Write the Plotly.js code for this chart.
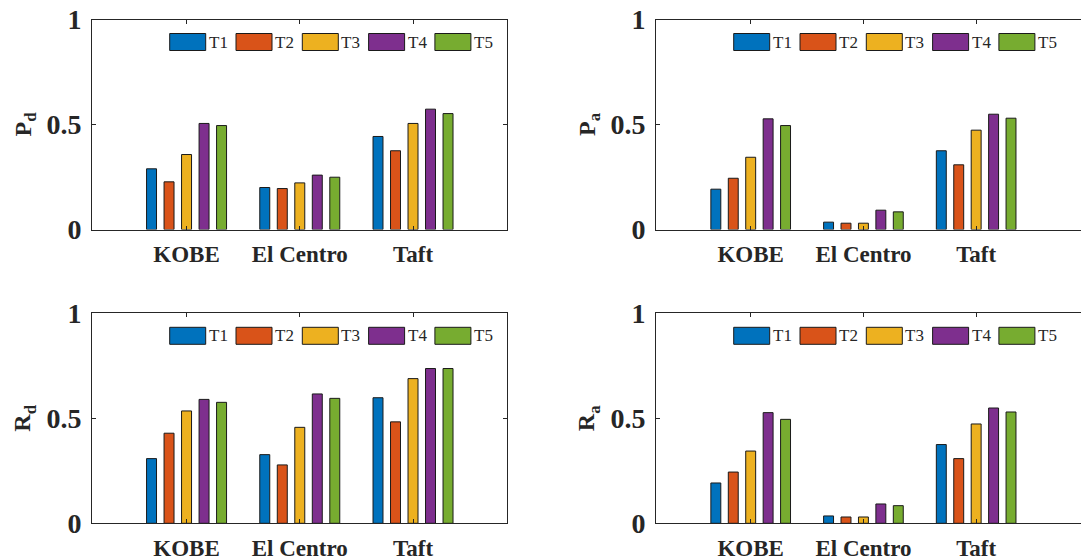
<!DOCTYPE html>
<html>
<head>
<meta charset="utf-8">
<script src="https://cdn.plot.ly/plotly-3.0.1.min.js"></script>
<style>html,body{margin:0;padding:0;background:#fff;}#chart{width:1081px;height:558px;}</style>
</head>
<body>
<div id="chart"></div>
<script>
// ---- data ----
const categories = ['KOBE', 'El Centro', 'Taft'];
const seriesNames = ['T1', 'T2', 'T3', 'T4', 'T5'];
const seriesColors = ['#0072BD', '#D95319', '#EDB120', '#7E2F8E', '#77AC30'];
const yTickVals = [0, 0.5, 1];
const yTickText = ['0', '0.5', '1'];
// rows = series T1..T5, columns = KOBE, El Centro, Taft
const Pd = [
  [0.289, 0.200, 0.443],
  [0.227, 0.195, 0.375],
  [0.357, 0.222, 0.505],
  [0.505, 0.259, 0.573],
  [0.495, 0.249, 0.552]
];
const Pa = [
  [0.192, 0.035, 0.375],
  [0.244, 0.030, 0.308],
  [0.344, 0.030, 0.473],
  [0.527, 0.092, 0.549],
  [0.495, 0.084, 0.530]
];
const Rd = [
  [0.308, 0.327, 0.598],
  [0.429, 0.278, 0.483],
  [0.535, 0.457, 0.689],
  [0.590, 0.616, 0.737],
  [0.576, 0.595, 0.737]
];
const Ra = [
  [0.192, 0.035, 0.375],
  [0.244, 0.030, 0.308],
  [0.344, 0.030, 0.473],
  [0.527, 0.092, 0.549],
  [0.495, 0.084, 0.530]
];
const panelTitles = ['P<sub>d</sub>', 'P<sub>a</sub>', 'R<sub>d</sub>', 'R<sub>a</sub>'];

// ---- layout geometry (pixels) ----
const W = 1081, H = 558;
const panels = [
  {data: Pd, left: 92, right: 507, top: 19.5, bottom: 229.5, xr: [-0.835, 2.83], rightEdge: true},
  {data: Pa, left: 656, right: 1081, top: 19.5, bottom: 229.5, xr: [-0.84, 2.93], rightEdge: false},
  {data: Rd, left: 92, right: 507, top: 313.3, bottom: 523.3, xr: [-0.835, 2.83], rightEdge: true},
  {data: Ra, left: 656, right: 1081, top: 313.3, bottom: 523.3, xr: [-0.84, 2.93], rightEdge: false}
];
const px = x => x / W;
const py = y => 1 - y / H;

const SERIF = "'Liberation Serif', 'DejaVu Serif', serif";
const DARK = '#262626';

const traces = [];
const layout = {
  width: W, height: H,
  margin: {l: 0, r: 0, t: 0, b: 0, pad: 0},
  paper_bgcolor: '#fff', plot_bgcolor: '#fff',
  font: {family: SERIF, color: DARK},
  barmode: 'group', bargap: 0.227, bargroupgap: 0.43,
  showlegend: false,
  shapes: [], annotations: []
};

panels.forEach((p, i) => {
  const n = i === 0 ? '' : String(i + 1);
  seriesNames.forEach((s, k) => {
    traces.push({
      type: 'bar', name: s, x: categories, y: p.data[k],
      xaxis: 'x' + n, yaxis: 'y' + n,
      marker: {color: seriesColors[k], line: {color: '#1a1a1a', width: 1}},
      hoverinfo: 'x+y+name'
    });
  });
  layout['xaxis' + n] = {
    domain: [px(p.left), px(p.right)], anchor: 'y' + n,
    type: 'category', range: p.xr,
    showline: true, linecolor: DARK, linewidth: 1, mirror: 'ticks',
    ticks: 'inside', ticklen: 4, tickcolor: DARK, tickwidth: 1,
    showgrid: false, zeroline: false, ticklabelstandoff: 4,
    tickfont: {family: SERIF, size: 23, color: DARK, weight: 'bold'},
    fixedrange: true
  };
  layout['yaxis' + n] = {
    domain: [py(p.bottom), py(p.top)], anchor: 'x' + n,
    range: [0, 1], tickvals: yTickVals, ticktext: yTickText,
    showline: true, linecolor: DARK, linewidth: 1,
    mirror: p.rightEdge ? 'ticks' : false,
    ticks: 'inside', ticklen: 4, tickcolor: DARK, tickwidth: 1,
    showgrid: false, zeroline: false, ticklabelstandoff: 4,
    tickfont: {family: SERIF, size: 28, color: DARK, weight: 'bold'},
    title: {text: panelTitles[i], font: {family: SERIF, size: 24, color: DARK, weight: 'bold'}, standoff: 8},
    fixedrange: true
  };
  // custom MATLAB-style legend (wide swatches)
  seriesNames.forEach((s, k) => {
    const x0 = p.left + 77.7 + k * 66.3;
    const y0 = p.top + 14;
    layout.shapes.push({
      type: 'rect', xref: 'paper', yref: 'paper',
      x0: px(x0), x1: px(x0 + 36), y0: py(y0 + 17), y1: py(y0),
      fillcolor: seriesColors[k], line: {color: '#1a1a1a', width: 1}
    });
    layout.annotations.push({
      xref: 'paper', yref: 'paper', x: px(x0 + 37), y: py(y0 + 8.5),
      xanchor: 'left', yanchor: 'middle', showarrow: false, text: s,
      font: {family: SERIF, size: 17, color: DARK}
    });
  });
});

Plotly.newPlot('chart', traces, layout, {displayModeBar: false, staticPlot: true});
</script>
</body>
</html>
